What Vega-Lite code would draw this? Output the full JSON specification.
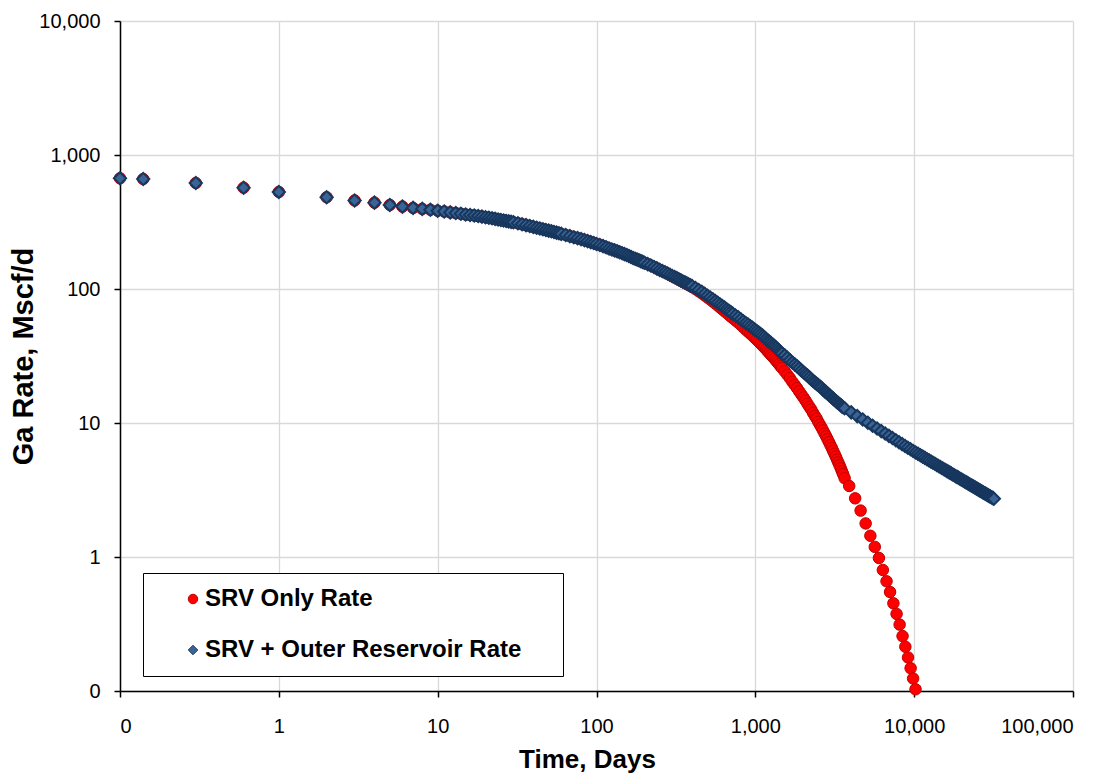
{
  "$schema": "https://vega.github.io/schema/vega-lite/v6.json",
  "width": 953,
  "height": 670,
  "autosize": {"type": "none"},
  "padding": {"left": 120, "top": 21, "right": 42, "bottom": 85},
  "background": "white",
  "config": {
    "view": {"stroke": null},
    "font": "Liberation Sans",
    "axis": {
      "domainColor": "black",
      "domainWidth": 1.5,
      "tickColor": "black",
      "tickWidth": 1.5,
      "tickSize": 6,
      "grid": true,
      "gridColor": "#D9D9D9",
      "gridWidth": 1.3,
      "labelFont": "Liberation Sans",
      "labelFontSize": 20,
      "labelColor": "black",
      "titleFont": "Liberation Sans",
      "titleFontWeight": "bold",
      "titleColor": "black"
    },
    "legend": {
      "orient": "none",
      "legendX": 23,
      "legendY": 552,
      "padding": 14,
      "strokeColor": "black",
      "strokeWidth": 1,
      "fillColor": "white",
      "labelFont": "Liberation Sans",
      "labelFontSize": 24,
      "labelFontWeight": "bold",
      "labelColor": "black",
      "labelLimit": 600,
      "symbolSize": 90,
      "symbolStrokeWidth": 1,
      "symbolOffset": 24,
      "labelOffset": 0,
      "rowPadding": 27
    }
  },
  "datasets": {
    "srvOnly": [
      {"t":0.1,"q":670},{"t":0.14,"q":662},{"t":0.3,"q":618},{"t":0.6,"q":570},{"t":1,"q":530},{"t":2,"q":484},{"t":3,"q":458},{"t":4,"q":441},{"t":5,"q":424},{"t":6,"q":412},{"t":7,"q":403},{"t":8,"q":396},{"t":9,"q":390},
      {"t":10,"q":384},{"t":11,"q":378.5},{"t":12,"q":373},{"t":13,"q":368.7},{"t":14,"q":364.3},{"t":15,"q":360},{"t":16,"q":356.7},{"t":17,"q":353.4},{"t":18,"q":350.2},{"t":19,"q":346.9},{"t":20,"q":343.6},{"t":21,"q":340.3},{"t":22,"q":337},{"t":23,"q":333.7},{"t":24,"q":330.4},{"t":25,"q":327.1},{"t":26,"q":324.6},{"t":27,"q":322.1},{"t":28,"q":319.6},{"t":29,"q":317.1},{"t":30,"q":314.6},
      {"t":32,"q":309.5},{"t":34,"q":304.4},{"t":36,"q":299.6},{"t":38,"q":295.1},{"t":40,"q":290.7},{"t":42,"q":286.8},{"t":44,"q":282.9},{"t":46,"q":279.2},{"t":48,"q":275.9},{"t":50,"q":272.5},{"t":52,"q":269.4},{"t":54,"q":266.3},{"t":56,"q":263.4},{"t":58,"q":260.7},{"t":60,"q":258},
      {"t":64,"q":253},{"t":68,"q":248.1},{"t":72,"q":243.6},{"t":76,"q":239.6},{"t":80,"q":235.6},{"t":84,"q":231.6},{"t":88,"q":227.6},{"t":92,"q":223.9},{"t":96,"q":220.4},{"t":100,"q":217},
      {"t":105,"q":212.9},{"t":110,"q":208.8},{"t":115,"q":204.7},{"t":120,"q":200.6},{"t":125,"q":197.4},{"t":130,"q":194.3},{"t":135,"q":191.1},{"t":140,"q":187.9},{"t":145,"q":185},{"t":150,"q":182.1},{"t":155,"q":179.2},{"t":160,"q":176.3},{"t":165,"q":173.4},{"t":170,"q":170.5},{"t":175,"q":168.3},{"t":180,"q":166},{"t":185,"q":163.8},{"t":190,"q":161.5},{"t":195,"q":159.3},{"t":200,"q":157},
      {"t":210,"q":153.3},{"t":220,"q":149.6},{"t":230,"q":145.9},{"t":240,"q":142.2},{"t":250,"q":138.6},{"t":260,"q":135.7},{"t":270,"q":132.8},{"t":280,"q":130.1},{"t":290,"q":127.2},{"t":300,"q":124.4},{"t":310,"q":122.1},{"t":320,"q":119.7},{"t":330,"q":117.4},{"t":340,"q":115},{"t":350,"q":112.7},{"t":360,"q":110.8},{"t":370,"q":109},{"t":380,"q":107.1},{"t":390,"q":105.3},{"t":400,"q":103.4},
      {"t":420,"q":99.9},{"t":440,"q":96.3},{"t":460,"q":92.9},{"t":480,"q":89.6},{"t":500,"q":86.4},{"t":520,"q":83.6},{"t":540,"q":80.6},{"t":560,"q":77.9},{"t":580,"q":75.4},{"t":600,"q":72.8},{"t":620,"q":70.6},{"t":640,"q":68.4},{"t":660,"q":66.2},{"t":680,"q":64.4},{"t":700,"q":62.5},{"t":720,"q":60.7},
      {"t":750,"q":58.3},{"t":780,"q":56.2},{"t":810,"q":54},{"t":840,"q":51.9},{"t":870,"q":49.8},{"t":900,"q":48.1},{"t":930,"q":46.4},{"t":960,"q":44.9},{"t":990,"q":43.3},{"t":1020,"q":41.9},{"t":1050,"q":40.5},{"t":1080,"q":39.1},{"t":1110,"q":37.8},{"t":1140,"q":36.6},{"t":1170,"q":35.4},{"t":1200,"q":34.2},{"t":1230,"q":33.1},{"t":1260,"q":32.1},{"t":1290,"q":31.1},{"t":1320,"q":30.2},{"t":1350,"q":29.2},{"t":1380,"q":28.3},{"t":1410,"q":27.4},{"t":1440,"q":26.6},{"t":1470,"q":25.8},
      {"t":1530,"q":24.3},{"t":1590,"q":22.9},{"t":1650,"q":21.6},{"t":1710,"q":20.3},{"t":1770,"q":19.2},{"t":1830,"q":18.2},{"t":1890,"q":17.2},{"t":1950,"q":16.3},{"t":2010,"q":15.5},{"t":2070,"q":14.7},{"t":2130,"q":13.9},{"t":2190,"q":13.2},{"t":2250,"q":12.6},{"t":2310,"q":11.9},{"t":2370,"q":11.3},{"t":2430,"q":10.8},{"t":2490,"q":10.2},{"t":2550,"q":9.72},{"t":2610,"q":9.24},{"t":2670,"q":8.79},{"t":2730,"q":8.36},{"t":2790,"q":7.95},{"t":2850,"q":7.56},{"t":2910,"q":7.19},{"t":2970,"q":6.84},{"t":3030,"q":6.51},{"t":3090,"q":6.19},{"t":3150,"q":5.89},{"t":3210,"q":5.61},{"t":3270,"q":5.33},{"t":3330,"q":5.07},{"t":3390,"q":4.83},{"t":3450,"q":4.59},{"t":3510,"q":4.36},{"t":3570,"q":4.15},
      {"t":3650,"q":3.87},{"t":3900,"q":3.39},{"t":4250,"q":2.74},{"t":4600,"q":2.22},{"t":4950,"q":1.78},{"t":5300,"q":1.44},{"t":5650,"q":1.19},{"t":6000,"q":0.983},{"t":6350,"q":0.8},{"t":6700,"q":0.659},{"t":7050,"q":0.548},{"t":7400,"q":0.451},{"t":7750,"q":0.376},{"t":8100,"q":0.313},{"t":8450,"q":0.257},{"t":8800,"q":0.214},{"t":9150,"q":0.178},{"t":9500,"q":0.148},{"t":9850,"q":0.124},{"t":10200,"q":0.103}
    ],
    "srvOuter": [
      {"t":0.1,"q":670},{"t":0.14,"q":662},{"t":0.3,"q":618},{"t":0.6,"q":570},{"t":1,"q":530},{"t":2,"q":484},{"t":3,"q":458},{"t":4,"q":441},{"t":5,"q":424},{"t":6,"q":412},{"t":7,"q":403},{"t":8,"q":396},{"t":9,"q":390},
      {"t":10,"q":384},{"t":11,"q":378.5},{"t":12,"q":373},{"t":13,"q":368.7},{"t":14,"q":364.3},{"t":15,"q":360},{"t":16,"q":356.7},{"t":17,"q":353.4},{"t":18,"q":350.2},{"t":19,"q":346.9},{"t":20,"q":343.6},{"t":21,"q":340.3},{"t":22,"q":337},{"t":23,"q":333.7},{"t":24,"q":330.4},{"t":25,"q":327.1},{"t":26,"q":324.6},{"t":27,"q":322.1},{"t":28,"q":319.6},{"t":29,"q":317.1},{"t":30,"q":314.6},
      {"t":32,"q":309.5},{"t":34,"q":304.4},{"t":36,"q":299.6},{"t":38,"q":295.1},{"t":40,"q":290.7},{"t":42,"q":286.8},{"t":44,"q":282.9},{"t":46,"q":279.2},{"t":48,"q":275.9},{"t":50,"q":272.5},{"t":52,"q":269.4},{"t":54,"q":266.3},{"t":56,"q":263.4},{"t":58,"q":260.7},{"t":60,"q":258},
      {"t":64,"q":253},{"t":68,"q":248.1},{"t":72,"q":243.6},{"t":76,"q":239.6},{"t":80,"q":235.6},{"t":84,"q":231.6},{"t":88,"q":227.6},{"t":92,"q":223.9},{"t":96,"q":220.4},{"t":100,"q":217},
      {"t":105,"q":212.9},{"t":110,"q":208.8},{"t":115,"q":204.7},{"t":120,"q":200.6},{"t":125,"q":197.4},{"t":130,"q":194.3},{"t":135,"q":191.1},{"t":140,"q":187.9},{"t":145,"q":185},{"t":150,"q":182.1},{"t":155,"q":179.2},{"t":160,"q":176.3},{"t":165,"q":173.4},{"t":170,"q":170.5},{"t":175,"q":168.3},{"t":180,"q":166},{"t":185,"q":163.8},{"t":190,"q":161.5},{"t":195,"q":159.3},{"t":200,"q":157},
      {"t":210,"q":153.4},{"t":220,"q":149.8},{"t":230,"q":146.1},{"t":240,"q":142.5},{"t":250,"q":138.9},{"t":260,"q":136.1},{"t":270,"q":133.3},{"t":280,"q":130.6},{"t":290,"q":127.8},{"t":300,"q":125},{"t":310,"q":122.8},{"t":320,"q":120.5},{"t":330,"q":118.3},{"t":340,"q":116},{"t":350,"q":113.8},{"t":360,"q":112},{"t":370,"q":110.3},{"t":380,"q":108.5},{"t":390,"q":106.8},{"t":400,"q":105},
      {"t":420,"q":101.7},{"t":440,"q":98.4},{"t":460,"q":95.2},{"t":480,"q":92.1},{"t":500,"q":89.1},{"t":520,"q":86.5},{"t":540,"q":83.8},{"t":560,"q":81.3},{"t":580,"q":79},{"t":600,"q":76.6},{"t":620,"q":74.6},{"t":640,"q":72.6},{"t":660,"q":70.6},{"t":680,"q":68.9},{"t":700,"q":67.2},{"t":720,"q":65.5},
      {"t":750,"q":63.4},{"t":780,"q":61.5},{"t":810,"q":59.5},{"t":840,"q":57.5},{"t":870,"q":55.8},{"t":900,"q":54.3},{"t":930,"q":52.8},{"t":960,"q":51.4},{"t":990,"q":49.9},{"t":1020,"q":48.6},{"t":1050,"q":47.4},{"t":1080,"q":46.1},{"t":1110,"q":44.9},{"t":1140,"q":43.7},{"t":1170,"q":42.4},{"t":1200,"q":41.2},{"t":1230,"q":40.3},{"t":1260,"q":39.4},{"t":1290,"q":38.4},{"t":1320,"q":37.5},{"t":1350,"q":36.6},{"t":1380,"q":35.7},{"t":1410,"q":34.7},{"t":1440,"q":33.8},{"t":1470,"q":33.1},
      {"t":1530,"q":32},{"t":1590,"q":30.7},{"t":1650,"q":29.4},{"t":1710,"q":28.3},{"t":1770,"q":27.4},{"t":1830,"q":26.5},{"t":1890,"q":25.6},{"t":1950,"q":24.7},{"t":2010,"q":23.9},{"t":2070,"q":23.2},{"t":2130,"q":22.6},{"t":2190,"q":21.9},{"t":2250,"q":21.2},{"t":2310,"q":20.6},{"t":2370,"q":20.1},{"t":2430,"q":19.6},{"t":2490,"q":19.2},{"t":2550,"q":18.7},{"t":2610,"q":18.3},{"t":2670,"q":17.7},{"t":2730,"q":17.3},{"t":2790,"q":17},{"t":2850,"q":16.6},{"t":2910,"q":16.2},{"t":2970,"q":15.9},{"t":3030,"q":15.5},{"t":3090,"q":15.2},{"t":3150,"q":14.9},{"t":3210,"q":14.6},{"t":3270,"q":14.3},{"t":3330,"q":14.1},{"t":3390,"q":13.8},{"t":3450,"q":13.6},{"t":3510,"q":13.3},{"t":3570,"q":13.1},
      {"t":3650,"q":12.89},{"t":4015,"q":12.01},{"t":4380,"q":11.26},{"t":4745,"q":10.62},{"t":5110,"q":10.05},{"t":5475,"q":9.55},{"t":5840,"q":9.1},{"t":6205,"q":8.7},{"t":6570,"q":8.34},{"t":6935,"q":8.02},{"t":7300,"q":7.72},{"t":7665,"q":7.44},{"t":8030,"q":7.19},{"t":8395,"q":6.96},{"t":8760,"q":6.74},{"t":9125,"q":6.54},{"t":9490,"q":6.36},{"t":9855,"q":6.18},{"t":10220,"q":6.02},{"t":10585,"q":5.88},{"t":10950,"q":5.74},{"t":11315,"q":5.61},{"t":11680,"q":5.49},{"t":12045,"q":5.37},{"t":12410,"q":5.26},{"t":12775,"q":5.15},{"t":13140,"q":5.05},{"t":13505,"q":4.96},{"t":13870,"q":4.86},{"t":14235,"q":4.78},{"t":14600,"q":4.69},{"t":14965,"q":4.61},{"t":15330,"q":4.54},{"t":15695,"q":4.46},{"t":16060,"q":4.39},{"t":16425,"q":4.32},{"t":16790,"q":4.26},{"t":17155,"q":4.19},{"t":17520,"q":4.13},{"t":17885,"q":4.07},{"t":18250,"q":4.01},{"t":18615,"q":3.96},{"t":18980,"q":3.91},{"t":19345,"q":3.85},{"t":19710,"q":3.8},{"t":20075,"q":3.76},{"t":20440,"q":3.71},{"t":20805,"q":3.66},{"t":21170,"q":3.62},{"t":21535,"q":3.58},{"t":21900,"q":3.53},{"t":22265,"q":3.49},{"t":22630,"q":3.45},{"t":22995,"q":3.42},{"t":23360,"q":3.38},{"t":23725,"q":3.34},{"t":24090,"q":3.31},{"t":24455,"q":3.27},{"t":24820,"q":3.24},{"t":25185,"q":3.2},{"t":25550,"q":3.17},{"t":25915,"q":3.14},{"t":26280,"q":3.11},{"t":26645,"q":3.08},{"t":27010,"q":3.05},{"t":27375,"q":3.02},{"t":27740,"q":2.99},{"t":28105,"q":2.97},{"t":28470,"q":2.94},{"t":28835,"q":2.91},{"t":29200,"q":2.89},{"t":29565,"q":2.86},{"t":29930,"q":2.84},{"t":30295,"q":2.82},{"t":30660,"q":2.79},{"t":31025,"q":2.77},{"t":31390,"q":2.75},{"t":31755,"q":2.72}
    ]
  },
  "encoding": {
    "x": {
      "field": "t",
      "type": "quantitative",
      "scale": {"type": "log", "domain": [0.1, 100000], "nice": false},
      "axis": {
        "title": "Time, Days",
        "titleFontSize": 26,
        "titleX": 467,
        "values": [0.1, 1, 10, 100, 1000, 10000, 100000],
        "format": ",.0f",
        "labelPadding": 19,
        "titlePadding": 10
      }
    },
    "y": {
      "field": "q",
      "type": "quantitative",
      "scale": {"type": "log", "domain": [0.1, 10000], "nice": false},
      "axis": {
        "title": "Ga Rate, Mscf/d",
        "titleFontSize": 29,
        "values": [0.1, 1, 10, 100, 1000, 10000],
        "format": ",.0f",
        "labelPadding": 14,
        "titlePadding": 0
      }
    }
  },
  "layer": [
    {
      "data": {"name": "srvOnly"},
      "mark": {"type": "point", "filled": true, "opacity": 1, "size": 132, "strokeWidth": 1},
      "encoding": {
        "color": {
          "datum": "SRV Only Rate",
          "scale": {"domain": ["SRV Only Rate", "SRV + Outer Reservoir Rate"], "range": ["#FF0000", "#3A6494"]},
          "legend": {"title": null, "labelExpr": "datum.label + '\u00a0\u00a0\u00a0\u00a0\u200b'"}
        },
        "stroke": {
          "datum": "SRV Only Rate",
          "scale": {"domain": ["SRV Only Rate", "SRV + Outer Reservoir Rate"], "range": ["#C00000", "#17375E"]},
          "legend": {"title": null, "labelExpr": "datum.label + '\u00a0\u00a0\u00a0\u00a0\u200b'"}
        },
        "shape": {
          "datum": "SRV Only Rate",
          "scale": {"domain": ["SRV Only Rate", "SRV + Outer Reservoir Rate"], "range": ["circle", "diamond"]},
          "legend": {"title": null, "labelExpr": "datum.label + '\u00a0\u00a0\u00a0\u00a0\u200b'"}
        }
      }
    },
    {
      "data": {"name": "srvOuter"},
      "mark": {"type": "point", "filled": true, "opacity": 1, "size": 150, "strokeWidth": 2},
      "encoding": {
        "color": {"datum": "SRV + Outer Reservoir Rate"},
        "stroke": {"datum": "SRV + Outer Reservoir Rate"},
        "shape": {"datum": "SRV + Outer Reservoir Rate"}
      }
    }
  ]
}
